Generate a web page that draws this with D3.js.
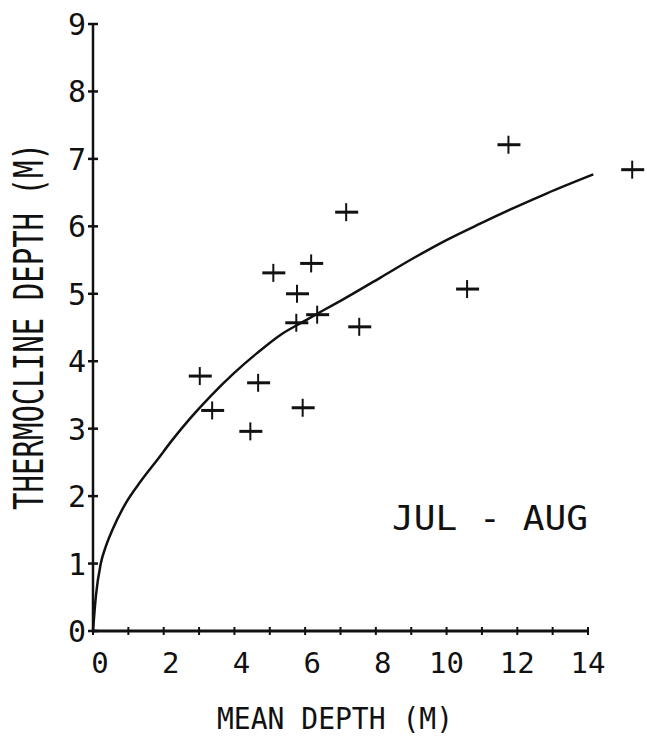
<!DOCTYPE html>
<html>
<head>
<meta charset="utf-8">
<script src="https://cdn.jsdelivr.net/npm/d3@7"></script>
<style>
    body { margin: 0; background: #fff; }
    text { font-family: "DejaVu Sans Mono", monospace; fill: #111; }
</style>
</head>
<body>
<div id="container"></div>
<script>
// measured stations (mean depth, thermocline depth)
const meanDepth = [7.16, 6.17, 5.10, 5.77, 6.34, 5.75, 7.53, 3.02, 4.67, 3.37, 5.93, 4.45, 11.75, 15.25, 10.58]
const thermoDepth = [6.21, 5.45, 5.31, 5.00, 4.69, 4.57, 4.51, 3.78, 3.68, 3.27, 3.31, 2.96, 7.21, 6.84, 5.07]

// fitted curve
const curveX = [0, 0.08, 0.22, 0.36, 0.55, 0.92, 1.35, 1.82, 2.24, 2.76, 3.32, 3.98, 4.64, 5.30, 5.96, 6.53, 7.05, 8.13, 9.07, 10.01, 10.95, 11.89, 12.84, 14.15]
const curveY = [0, 0.51, 1.0, 1.25, 1.50, 1.89, 2.22, 2.54, 2.83, 3.16, 3.48, 3.82, 4.12, 4.39, 4.59, 4.76, 4.91, 5.24, 5.53, 5.80, 6.04, 6.27, 6.49, 6.77]

const xTickLabels = [0, 2, 4, 6, 8, 10, 12, 14]
const yTickLabels = [0, 1, 2, 3, 4, 5, 6, 7, 8, 9]

const width = 647
const height = 739

const svg = d3.select('#container')
    .append('svg')
    .attr('width', width)
    .attr('height', height)

const xScale = d3.scaleLinear().domain([0, 14]).range([93, 588])
const yScale = d3.scaleLinear().domain([0, 9]).range([631, 24])

// x axis
const xAxis = svg.append('g').attr('id', 'x-axis')
xAxis.append('line')
    .attr('x1', xScale(0)).attr('x2', xScale(14))
    .attr('y1', yScale(0)).attr('y2', yScale(0))
    .attr('stroke', '#111').attr('stroke-width', 3)
xAxis.selectAll('.tick')
    .data(d3.range(0, 15))
    .join('line')
    .attr('class', 'tick')
    .attr('x1', d => xScale(d)).attr('x2', d => xScale(d))
    .attr('y1', yScale(0) - 4).attr('y2', yScale(0) + 4)
    .attr('stroke', '#111').attr('stroke-width', 2)
xAxis.selectAll('.label')
    .data(xTickLabels)
    .join('text')
    .attr('class', 'label')
    // labels were written as 2 wide fields, so one digit sits right of the tick
    .attr('x', d => xScale(d) + (String(d).length === 1 ? 7 : 0))
    .attr('y', 673)
    .attr('text-anchor', 'middle')
    .attr('font-size', 29)
    .text(d => d)

// y axis
const yAxis = svg.append('g').attr('id', 'y-axis')
yAxis.append('line')
    .attr('x1', xScale(0)).attr('x2', xScale(0))
    .attr('y1', yScale(0)).attr('y2', yScale(9))
    .attr('stroke', '#111').attr('stroke-width', 2.5)
yAxis.selectAll('.tick')
    .data(yTickLabels)
    .join('line')
    .attr('class', 'tick')
    .attr('x1', xScale(0) - 5).attr('x2', xScale(0) + 5)
    .attr('y1', d => yScale(d)).attr('y2', d => yScale(d))
    .attr('stroke', '#111').attr('stroke-width', 2.5)
yAxis.selectAll('.label')
    .data(yTickLabels)
    .join('text')
    .attr('class', 'label')
    .attr('x', 77)
    .attr('y', d => yScale(d) + 11)
    .attr('text-anchor', 'middle')
    .attr('font-size', 30)
    .text(d => d)

// titles
svg.append('text')
    .attr('transform', 'translate(43, 326.5) rotate(-90)')
    .attr('text-anchor', 'middle')
    .attr('font-size', 40)
    .attr('textLength', 367)
    .attr('lengthAdjust', 'spacingAndGlyphs')
    .text('THERMOCLINE DEPTH (M)')

svg.append('text')
    .attr('x', 335)
    .attr('y', 729)
    .attr('text-anchor', 'middle')
    .attr('font-size', 30)
    .attr('textLength', 236)
    .attr('lengthAdjust', 'spacingAndGlyphs')
    .text('MEAN DEPTH (M)')

svg.append('text')
    .attr('x', 490)
    .attr('y', 530)
    .attr('text-anchor', 'middle')
    .attr('font-size', 34)
    .attr('textLength', 196)
    .attr('lengthAdjust', 'spacingAndGlyphs')
    .text('JUL - AUG')

// fitted curve
const curveData = curveX.map((x, i) => [x, curveY[i]])
const line = d3.line()
    .x(d => xScale(d[0]))
    .y(d => yScale(d[1]))
    .curve(d3.curveMonotoneX)
svg.append('path')
    .attr('d', line(curveData))
    .attr('fill', 'none')
    .attr('stroke', '#111')
    .attr('stroke-width', 2.5)

// plus markers
const points = meanDepth.map((x, i) => ({ x, y: thermoDepth[i] }))
const marks = svg.selectAll('.mark')
    .data(points)
    .join('g')
    .attr('class', 'mark')
    .attr('transform', d => `translate(${xScale(d.x)}, ${yScale(d.y)})`)
marks.append('line')
    .attr('x1', -11).attr('x2', 12).attr('y1', 0).attr('y2', 0)
    .attr('stroke', '#111').attr('stroke-width', 3)
marks.append('line')
    .attr('x1', 0).attr('x2', 0).attr('y1', -9).attr('y2', 9)
    .attr('stroke', '#111').attr('stroke-width', 2)
</script>
</body>
</html>
